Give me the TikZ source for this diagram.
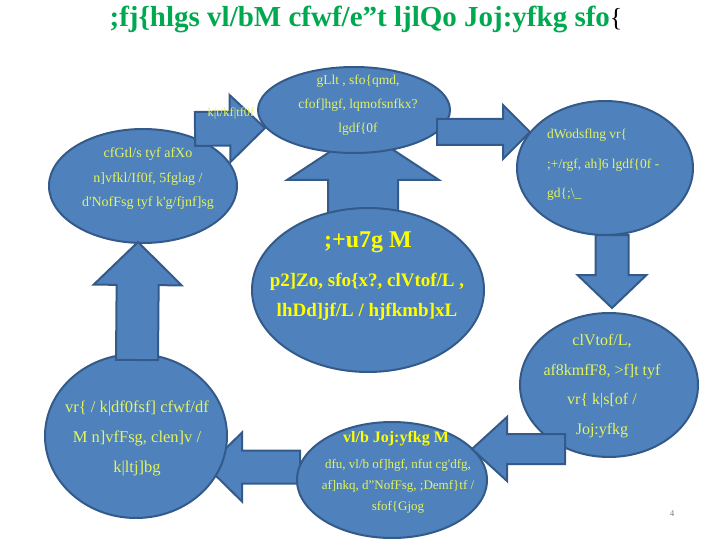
\documentclass[tikz,border=0pt]{standalone}
\usepackage{fontspec}
\setmainfont{Liberation Serif}
\usetikzlibrary{shapes.geometric,calc}

\definecolor{ovalblue}{RGB}{79,129,189}
\definecolor{ovalline}{RGB}{52,90,138}
\definecolor{lblyellow}{RGB}{228,244,92}
\definecolor{boldyellow}{RGB}{255,255,0}
\definecolor{titlegreen}{RGB}{0,168,80}

\tikzset{
  oval/.style={ellipse, draw=ovalline, line width=2pt, fill=ovalblue, inner sep=0pt},
  arrowbody/.style={draw=ovalline, line width=2pt, fill=ovalblue, line join=miter},
  lbl/.style={text=lblyellow, align=center, inner sep=0pt, font=\fontsize{13.5}{24}\selectfont},
  boldlbl/.style={text=boldyellow, align=center, inner sep=0pt, font=\bfseries\fontsize{19}{30}\selectfont}
}

% block arrow: from, to, half shaft, half head, head length
\newcommand\blockarrow[5]{%
  \path ($(#2)!#5!(#1)$) coordinate (hb);
  \filldraw[arrowbody] ($(#1)!#3!90:(#2)$) -- ($(hb)!#3!90:(#2)$) -- ($(hb)!#4!90:(#2)$) -- (#2)
    -- ($(hb)!#4!-90:(#2)$) -- ($(hb)!#3!-90:(#2)$) -- ($(#1)!#3!-90:(#2)$) -- cycle;
}

\begin{document}
\begin{tikzpicture}[x=1pt,y=-1pt]
    \useasboundingbox (0,0) rectangle (720,540);

    % Title
    \node[inner sep=0pt] (title) at (366,19) {\textcolor{titlegreen}{\bfseries\fontsize{29}{32}\selectfont ;fj\{hlgs vl/bM cfwf/e"t ljlQo Joj:yfkg sfo}\fontsize{26}{32}\selectfont\{};

    % arrow ends
    \coordinate (org-out) at (363,215);
    \coordinate (plan-in) at (363,130);
    \coordinate (buy-out) at (300,467);
    \coordinate (rep-in) at (207,467);
    \coordinate (aud-out) at (195,129);
    \coordinate (plan-in2) at (265,128);
    \coordinate (plan-out) at (437,132);
    \coordinate (bud-in) at (530,132);
    \coordinate (bud-out) at (612,235);
    \coordinate (acc-in) at (612,308);
    \coordinate (acc-out) at (565,449);
    \coordinate (buy-in) at (472,449);
    \coordinate (rep-out) at (137,360);
    \coordinate (aud-in) at (138,242);

    % arrows behind the ovals
    \blockarrow{org-out}{plan-in}{35pt}{76pt}{50pt}
    \blockarrow{buy-out}{rep-in}{16.5pt}{34.5pt}{35pt}

    % Ovals
    \node[oval, minimum width=192pt, minimum height=86pt] (plan) at (354,110) {};
    \node[oval, minimum width=188pt, minimum height=114pt] (audit) at (143,186) {};
    \node[oval, minimum width=176pt, minimum height=134pt] (budget) at (605,168) {};
    \node[oval, minimum width=232pt, minimum height=164pt] (org) at (368,290) {};
    \node[oval, minimum width=178pt, minimum height=144pt] (account) at (609,385) {};
    \node[oval, minimum width=190pt, minimum height=116pt] (buy) at (392,480) {};
    \node[oval, minimum width=182pt, minimum height=164pt] (report) at (136,436) {};

    % arrows in front
    \blockarrow{aud-out}{plan-in2}{17pt}{33.5pt}{35pt}
    \blockarrow{plan-out}{bud-in}{13pt}{27pt}{27pt}
    \blockarrow{bud-out}{acc-in}{16.5pt}{34.5pt}{33pt}
    \blockarrow{acc-out}{buy-in}{15pt}{32pt}{35pt}
    \blockarrow{rep-out}{aud-in}{21pt}{44pt}{43pt}
    \node[text=lblyellow, inner sep=0pt, font=\fontsize{12.5}{13}\selectfont] (arrow-lbl) at (231,113) {k|t/kf|tf0f};

    % Texts
    \node[lbl] (plan-txt) at (358,105) {gLlt , sfo\{qmd,\\cfof]hgf, lqmofsnfkx?\\lgdf\{0f};
    \node[lbl, font=\fontsize{14}{24.5}\selectfont] (audit-txt) at (148,179) {cfGtl/s tyf afXo\\n]vfkl/If0f, 5fglag /\\d\textquotesingle NofFsg tyf k\textquotesingle g/fjnf]sg};
    \node[lbl, align=left, anchor=west, font=\fontsize{13.5}{29.5}\selectfont] (budget-txt) at (547,165) {dWodsflng vr\{\\;+/rgf, ah]6 lgdf\{0f -\\gd\{;\textbackslash\_};
    \node[boldlbl, font=\bfseries\fontsize{24}{26}\selectfont] (org-head) at (368,242) {;+u7g M};
    \node[boldlbl] (org-txt) at (367,297) {p2]Zo, sfo\{x?, clVtof/L ,\\lhDd]jf/L / hjfkmb]xL};
    \node[lbl, font=\fontsize{16}{29.5}\selectfont] (account-txt) at (602,386) {clVtof/L,\\af8kmfF8, >f]t tyf\\vr\{ k|s[of /\\Joj:yfkg};
    \node[lbl, font=\fontsize{16.5}{30}\selectfont] (report-txt) at (137,438) {vr\{ / k|df0fsf] cfwf/df\\M n]vfFsg, clen]v /\\k|ltj]bg};
    \node[boldlbl, font=\bfseries\fontsize{16}{18}\selectfont] (buy-head) at (396,439) {vl/b Joj:yfkg M};
    \node[lbl, font=\fontsize{13}{21}\selectfont] (buy-txt) at (398,486) {dfu, vl/b of]hgf, nfut cg\textquotesingle dfg,\\af]nkq, d"NofFsg, ;Demf\}tf /\\sfof\{Gjog};

    \node[text=gray, font=\fontsize{9}{10}\selectfont] (pageno) at (672,514) {4};
\end{tikzpicture}
\end{document}
